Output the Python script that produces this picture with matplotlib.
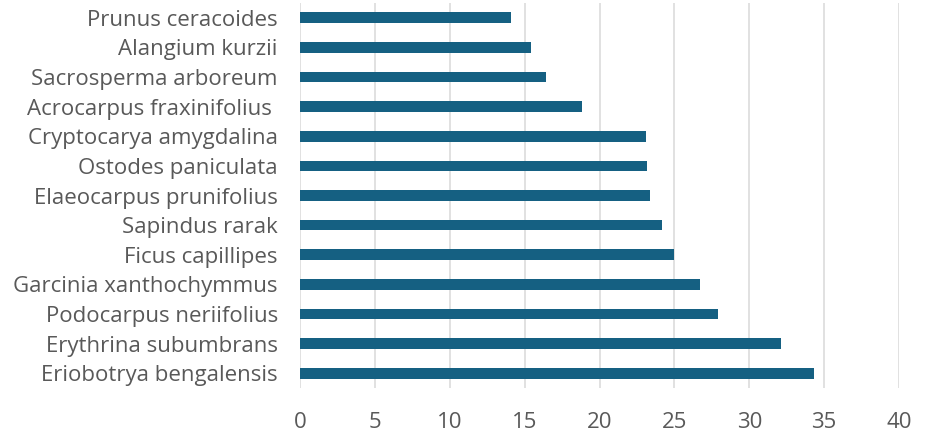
import matplotlib
matplotlib.use("Agg")
import matplotlib.pyplot as plt

species = [
    "Prunus ceracoides",
    "Alangium kurzii",
    "Sacrosperma arboreum",
    "Acrocarpus fraxinifolius ",
    "Cryptocarya amygdalina",
    "Ostodes paniculata",
    "Elaeocarpus prunifolius",
    "Sapindus rarak",
    "Ficus capillipes",
    "Garcinia xanthochymmus",
    "Podocarpus neriifolius",
    "Erythrina subumbrans",
    "Eriobotrya bengalensis",
]
values = [14.1, 15.4, 16.45, 18.8, 23.1, 23.2, 23.4, 24.2, 25.0, 26.7, 27.9, 32.1, 34.3]
x_ticks = [0, 5, 10, 15, 20, 25, 30, 35, 40]

plt.rcParams["font.family"] = ["Open Sans", "DejaVu Sans"]

fig = plt.figure(figsize=(9.36, 4.32), dpi=100)
ax = fig.add_axes([300 / 936, 1 - 388 / 432, 599 / 936, 385 / 432])

pos = list(range(len(species)))
ax.barh(pos, values, height=0.36, color="#156082", zorder=3)

ax.set_xlim(0, 40)
ax.set_ylim(len(species) - 0.5, -0.5)
ax.set_xticks(x_ticks)
ax.set_xticklabels([str(t) for t in x_ticks])
ax.set_yticks(pos)
ax.set_yticklabels(species)

ax.grid(axis="x", color="#d9d9d9", linewidth=1.1, zorder=0)
ax.grid(axis="y", visible=False)
for s in ax.spines.values():
    s.set_visible(False)

ax.tick_params(axis="both", length=0, labelsize=16, colors="#595959")
ax.tick_params(axis="y", pad=16)
ax.tick_params(axis="x", pad=17)

fig.savefig("out.png", dpi=100)
